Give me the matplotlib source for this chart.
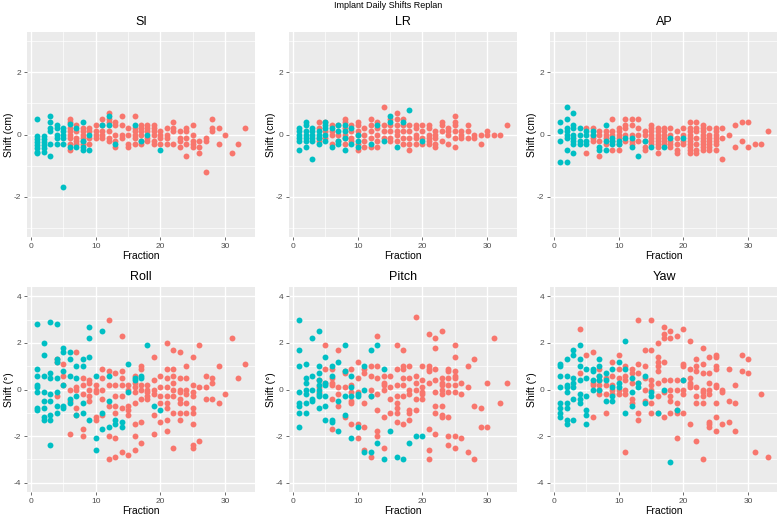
""" Implant daily shifts replan: ggplot-style 2x3 facet scatter """
import matplotlib
matplotlib.use('Agg')
import matplotlib.pyplot as plt

# shifts per fraction: {fraction: [shift values]}
# "pre" = teal group, "post" = salmon group
si_pre = {1: [0.5, -0.05, -0.15, -0.25, -0.35, -0.45, -0.55, -0.6],
          2: [-0.05, -0.15, -0.25, -0.35, -0.45, -0.55],
          3: [0.6, 0.4, 0.2, 0.1, -0.3, -0.7], 4: [0.3, 0.2, 0.0, -0.1, -0.3],
          5: [0.2, 0.1, 0.0, -0.1, -0.3, -1.7], 6: [0.35, -0.4], 7: [0.2, -0.4],
          8: [0.4, -0.2, -0.4, -0.5], 9: [0.0, -0.5], 11: [0.3], 12: [0.6, 0.3],
          13: [-0.3], 16: [0.3], 17: [-0.2], 18: [0.0], 20: [-0.5]}
si_post = {6: [0.5, 0.4, 0.2, 0.1, 0.0, -0.1, -0.3, -0.5], 7: [0.3, 0.1, -0.1, -0.2, -0.3],
           8: [0.2, 0.1, 0.0, -0.1, -0.2, -0.3], 9: [0.2, 0.1, -0.1, -0.3],
           10: [0.3, 0.1, 0.0, -0.1], 11: [0.5, 0.3, 0.1, 0.0, -0.1],
           12: [0.7, 0.5, 0.4, 0.1, -0.1, -0.2], 13: [0.4, 0.3, 0.0, -0.2, -0.4],
           14: [0.6, 0.3, 0.0, -0.1], 15: [0.2, 0.0, -0.3, -0.4],
           16: [0.6, 0.2, 0.1, 0.0, -0.1, -0.3], 17: [0.3, 0.2, 0.1, 0.0, -0.2, -0.3],
           18: [0.3, 0.2, 0.1, -0.1, -0.2], 19: [0.3, 0.2, 0.1, 0.0, -0.2, -0.3],
           20: [0.1, 0.0, -0.1, -0.3], 21: [0.2, 0.0, -0.1, -0.3], 22: [0.4, 0.2, 0.1, -0.3],
           23: [0.1, -0.1, -0.2, -0.4], 24: [0.2, 0.1, -0.1, -0.3, -0.7],
           25: [0.3, 0.0, -0.2, -0.3, -0.4], 26: [-0.2, -0.4, -0.6], 27: [-0.1, -0.2, -1.2],
           28: [0.5, 0.2, 0.1], 29: [0.2, -0.3], 30: [0.0], 31: [-0.6], 32: [-0.3], 33: [0.2]}

lr_pre = {1: [0.2, 0.1, 0.0, -0.1, -0.2, -0.5], 2: [0.4, 0.3, 0.1, 0.0, -0.1, -0.2, -0.4],
          3: [0.2, 0.1, 0.0, -0.1, -0.2, -0.8], 4: [0.1, 0.0, -0.1, -0.3],
          5: [0.4, 0.3, 0.2, 0.0, -0.2], 6: [0.2, -0.4], 7: [0.3, 0.1, -0.2, -0.3],
          8: [0.3, 0.1, -0.1, -0.5], 9: [0.2, -0.3], 10: [0.0, -0.2, -0.4], 12: [-0.3],
          13: [0.3], 14: [-0.2], 15: [0.6, 0.4], 16: [-0.4], 17: [0.4], 18: [0.8], 20: [-0.2]}
lr_post = {4: [0.4, 0.2, -0.1, -0.2], 5: [0.4, 0.1, -0.1], 6: [0.3, 0.1, 0.0, -0.3],
           7: [0.3, 0.0, -0.2], 8: [0.5, 0.4, 0.2, 0.0, -0.1, -0.3], 9: [0.3, 0.1, -0.1, -0.2],
           10: [0.4, 0.3, 0.1, 0.0, -0.3, -0.5], 11: [0.2, 0.0, -0.2, -0.4],
           12: [0.5, 0.3, 0.1, -0.1, -0.4], 13: [0.4, 0.2, 0.0, -0.2, -0.4],
           14: [0.9, 0.3, 0.1, -0.1], 15: [0.5, 0.3, 0.1, -0.1, -0.2],
           16: [0.7, 0.5, 0.3, 0.1, 0.0, -0.2], 17: [0.5, 0.3, 0.1, -0.1, -0.3],
           18: [0.3, 0.1, -0.1, -0.3, -0.5], 19: [0.3, 0.2, 0.0, -0.1, -0.3],
           20: [0.3, 0.1, -0.1, -0.3], 21: [0.3, 0.2, 0.0, -0.1, -0.2, -0.3],
           22: [0.1, 0.0, -0.1, -0.3, -0.4], 23: [0.4, 0.3, 0.1, -0.2], 24: [0.2, 0.1, 0.0, -0.3],
           25: [0.6, 0.4, 0.3, 0.1, -0.1, -0.4], 26: [0.1, 0.0, -0.1], 27: [0.3, 0.1, -0.1],
           28: [0.0, -0.1], 29: [0.0, -0.3], 30: [0.1, 0.0], 31: [0.0], 32: [0.0], 33: [0.3]}

ap_pre = {1: [0.4, 0.1, -0.2, -0.9], 2: [0.9, 0.5, 0.2, 0.1, 0.0, -0.1, -0.5, -0.9],
          3: [0.7, 0.3, 0.2, 0.0, -0.1, -0.2, -0.3, -0.6], 4: [0.2, 0.0, -0.2, -0.3],
          5: [0.1, 0.0, -0.2, -0.3], 6: [0.1, 0.0], 7: [-0.4, -0.5], 8: [0.3, -0.2, -0.5],
          9: [-0.1, -0.2, -0.3], 10: [-0.2, -0.3], 11: [-0.1], 12: [-0.1, -0.4], 13: [-0.7],
          14: [-0.2], 15: [-0.4], 17: [-0.4], 18: [-0.1], 20: [-0.1]}
ap_post = {5: [0.2, -0.6], 6: [0.2, 0.0, -0.1, -0.2], 7: [0.1, 0.0, -0.2, -0.7],
           8: [0.1, 0.0, -0.1, -0.3], 9: [0.5, 0.1, 0.0, -0.2, -0.5],
           10: [0.2, 0.1, 0.0, -0.1, -0.3, -0.5], 11: [0.5, 0.3, 0.2, 0.0, -0.2],
           12: [0.5, 0.3, 0.0, -0.2, -0.3], 13: [0.5, 0.2, 0.0, -0.2],
           14: [0.1, 0.0, -0.2, -0.4, -0.5], 15: [0.3, 0.2, 0.1, 0.0, -0.1, -0.2, -0.3],
           16: [0.2, 0.1, 0.0, -0.1, -0.2, -0.3, -0.4, -0.6],
           17: [0.2, 0.1, 0.0, -0.1, -0.2, -0.3], 18: [0.2, 0.0, -0.2, -0.3, -0.4],
           19: [0.1, -0.1, -0.3, -0.5, -0.6], 20: [0.2, 0.0, -0.2, -0.3],
           21: [0.4, 0.2, 0.1, 0.0, -0.1, -0.2, -0.3, -0.4, -0.5, -0.6],
           22: [0.4, 0.2, 0.1, -0.1, -0.3, -0.5, -0.6],
           23: [0.3, 0.2, 0.1, 0.0, -0.1, -0.2, -0.3, -0.4, -0.5],
           24: [0.2, 0.0, -0.1, -0.2, -0.3, -0.4, -0.5],
           25: [0.2, 0.1, 0.0, -0.1, -0.2, -0.3, -0.5], 26: [0.2, -0.1, -0.8], 27: [0.0],
           28: [0.3, -0.4], 29: [0.4, -0.2], 30: [0.4, -0.4], 31: [-0.3], 32: [-0.3], 33: [0.1]}

roll_pre = {1: [2.8, 0.9, 0.6, 0.2, 0.1, -0.1, -0.8, -0.9],
            2: [2.0, 1.5, 0.6, -0.1, -0.5, -0.8, -1.2, -1.3],
            3: [2.9, 0.7, 0.5, -0.2, -0.5, -1.1, -1.3, -2.4],
            4: [2.8, 1.3, 1.2, 0.5, -0.1, -0.7, -1.0], 5: [1.8, 1.6, 0.8, 0.2, -0.7, -0.8],
            6: [1.6, 1.3, 0.6, -0.4, -0.6], 7: [1.0, 0.5, -0.3, -1.1], 8: [1.3, 1.0, -0.6, -1.0],
            9: [2.7, 2.2, 1.4, -1.3], 10: [0.6, -2.1, -2.6], 11: [2.5, -1.0, -1.7],
            12: [0.6, -0.5, -1.6], 13: [-1.3, -1.5], 14: [-1.6, -1.4], 15: [1.1, -0.1],
            16: [0.5, 0.4], 17: [0.6, 0.5], 18: [1.9], 19: [-0.7], 20: [-0.9]}
roll_post = {4: [1.3, 1.2, -0.3], 5: [1.1, 0.6, 0.2], 6: [0.0, -0.5, -1.9],
             7: [1.6, 0.1, 0.0, -0.8, -1.1], 8: [0.5, 0.2, -0.2, -1.7, -2.0],
             9: [0.4, 0.3, 0.0, -0.3, -0.5], 10: [0.2, 0.0, -0.1, -1.2, -1.3],
             11: [0.9, 0.5, 0.0, -0.4, -1.1], 12: [3.0, 0.8, 0.2, -0.7, -2.0, -3.0],
             13: [0.7, 0.2, -0.3, -0.7, -1.0, -2.1, -2.9],
             14: [2.3, 0.8, 0.5, 0.2, -0.3, -0.8, -2.7],
             15: [0.2, 0.0, -0.7, -0.9, -1.1, -2.8],
             16: [0.6, 0.3, 0.1, -0.1, -0.6, -1.5, -2.0, -2.6],
             17: [1.0, 0.9, 0.2, 0.0, -0.4, -1.4, -2.3], 18: [0.2, 0.0, -0.1, -0.3, -0.4],
             19: [1.4, 0.4, 0.0, -0.2, -1.1, -1.9], 20: [0.6, 0.1, -0.3, -0.6, -1.4],
             21: [2.0, 0.9, 0.5, 0.1, -0.3, -0.6, -0.8, -1.3, -1.8],
             22: [1.7, 0.9, 0.6, 0.3, 0.0, -0.3, -1.0, -2.5],
             23: [1.6, 0.5, 0.0, -0.1, -0.4, -0.6, -1.0, -1.3],
             24: [1.0, 0.5, 0.0, -0.2, -0.6, -1.0],
             25: [1.4, 0.2, -0.1, -0.3, -0.8, -1.0, -1.5, -2.4, -2.5],
             26: [1.9, 0.1, -2.2], 27: [0.6, 0.1, -0.4], 28: [0.5, 0.3, -0.4], 29: [1.0, -0.6],
             30: [-0.2], 31: [2.2], 32: [0.5], 33: [1.1]}

pitch_pre = {1: [3.0, 1.7, 1.0, -0.1, -0.6, -0.7, -1.0, -1.6],
             2: [1.1, 0.5, 0.3, 0.0, -0.2, -0.6, -1.0], 3: [2.2, 0.6, 0.0, -0.4, -0.5],
             4: [2.5, 1.0, 0.7, 0.4, 0.2, 0.0, -0.2, -0.3, -0.8],
             5: [1.4, 0.3, 0.2, -0.3, -0.7, -1.3], 6: [1.0, 0.6, -1.3, -1.4],
             7: [1.2, -0.5, -1.8], 8: [1.9, 0.8, -0.3, -1.1], 9: [0.6, 0.1, -0.3, -2.1],
             10: [-0.2, -0.3, -1.6], 11: [1.0, 0.0, -2.7], 12: [1.7, -0.3, -2.7],
             13: [1.9, -2.3], 14: [0.9, -3.0], 15: [-1.8], 16: [-2.9], 17: [-3.0],
             18: [-2.3], 19: [-2.0], 20: [-2.0]}
pitch_post = {4: [0.4, 0.1, -0.1], 5: [1.9, 0.9, 0.3], 6: [0.9, 0.5, 0.3, 0.2, -0.4, -1.7],
              7: [1.7, 0.1, -0.2, -0.7], 8: [0.8, 0.7, 0.1, -1.2],
              9: [0.9, 0.2, -0.1, -0.5, -0.6, -1.5], 10: [1.2, 0.5, -0.1, -1.5, -2.1],
              11: [0.9, 0.7, -0.6, -1.6, -2.6], 12: [1.0, 0.6, 0.0, -0.3, -2.9],
              13: [2.3, 1.0, 0.5, -0.2, -0.9, -1.8, -2.0],
              14: [0.6, 0.3, 0.2, 0.0, -1.2, -2.5], 15: [0.6, 0.1, -0.4, -1.0],
              16: [1.9, 0.9, 0.2, -0.3, -0.6, -0.8, -1.0, -1.4],
              17: [1.7, 1.0, 0.9, 0.5, 0.2, -0.3, -1.5],
              18: [1.0, 0.5, 0.0, -0.2, -0.9, -1.0, -1.3],
              19: [3.1, 0.6, 0.3, 0.0, -0.4, -0.9], 20: [1.0, 0.4, 0.1, -0.1, -0.2, -0.4],
              21: [2.4, 1.0, 0.9, 0.8, 0.3, -1.7, -2.6, -3.0],
              22: [2.2, 1.8, 0.9, 0.4, -0.1, -0.7, -1.0, -1.9],
              23: [2.5, 0.5, 0.3, 0.2, 0.0, -0.2, -0.7, -1.1, -1.2],
              24: [0.9, 0.8, 0.5, 0.2, -0.1, -1.2, -2.0, -2.4],
              25: [1.9, 1.4, 0.8, 0.6, 0.5, 0.2, -0.1, -2.0, -2.5],
              26: [0.3, -0.2, -2.1], 27: [1.0, 0.1, -2.7], 28: [1.3, -0.7, -3.0],
              29: [-0.8, -1.6], 30: [0.3, -1.6], 31: [2.2], 32: [-0.6], 33: [0.3]}

yaw_pre = {1: [1.1, 1.0, 0.6, 0.1, -0.6, -0.8, -1.0, -1.2],
           2: [1.3, 0.6, 0.2, 0.1, -0.1, -0.6, -0.8, -1.3, -1.5],
           3: [1.7, 1.5, 0.5, 0.3, 0.1, -0.4, -1.3], 4: [1.9, 1.3, 1.0, 0.4, -0.2, -0.4, -0.6],
           5: [0.9, 0.5, -0.3, -0.9, -1.1, -1.5], 6: [0.9, 0.8, 0.4, 0.0],
           7: [1.3, 1.0, 0.6, 0.4, 0.0], 8: [0.7, 0.4, -0.5], 9: [0.9, 0.1, -0.3, -0.5],
           10: [1.2, 0.3, 0.1], 11: [2.1, 0.9, -1.0], 12: [0.5, -0.1, -0.7], 13: [0.3, 0.1],
           14: [0.6, -0.6], 15: [-0.1, -0.3], 16: [-1.0], 17: [0.0], 18: [-3.1], 19: [-0.9],
           20: [0.4]}
yaw_post = {4: [2.6, 0.7], 5: [1.5], 6: [1.6, 0.3, 0.2, -1.2], 7: [0.9, 0.6, 0.4, 0.2, 0.0, -0.2],
            8: [0.5, 0.2, -0.2, -1.0], 9: [1.2, 0.6, 0.2, 0.0, -0.2],
            10: [1.5, 0.9, 0.5, 0.0, -0.2], 11: [1.0, 0.6, 0.4, 0.0, -0.2, -2.7],
            12: [0.9, 0.7, 0.3, -0.4, -0.6], 13: [3.0, 1.1, 0.7, 0.3, -1.0, -1.3],
            14: [1.7, 1.0, 0.5, 0.0, -0.5], 15: [3.0, 1.7, 0.4, 0.2, 0.0, -0.6, -1.0],
            16: [2.0, 1.4, 1.2, 1.0, 0.8, 0.3, -0.3, -1.0],
            17: [2.7, 2.4, 2.2, 1.2, 0.4, -0.1, -1.2],
            18: [2.5, 2.2, 0.4, 0.0, -0.3, -0.5, -1.0],
            19: [2.3, 0.4, 0.0, -0.6, -0.9, -1.0, -2.1],
            20: [2.6, 1.1, 1.0, 0.4, 0.0, -0.2, -1.0],
            21: [2.1, 0.9, 0.5, 0.3, 0.2, 0.1, -1.5],
            22: [1.3, 1.0, 0.8, 0.1, -0.3, -0.6, -2.2],
            23: [1.8, 1.1, 0.7, 0.0, -0.1, -0.3, -0.6, -3.0],
            24: [1.4, 0.7, 0.3, 0.0, -0.2, -1.4, -1.5, -1.6],
            25: [1.5, 1.4, 1.0, 0.9, 0.2, 0.1, -0.6, -1.2, -1.8],
            26: [0.0, -0.1, -1.5], 27: [0.9, -0.5, -1.4], 28: [0.2, -0.6, -1.8],
            29: [1.5, 0.8], 30: [1.3, 0.7], 31: [-2.7], 32: [-0.2], 33: [-2.9]}

panel_titles = ['SI', 'LR', 'AP', 'Roll', 'Pitch', 'Yaw']
panel_data = [(si_pre, si_post), (lr_pre, lr_post), (ap_pre, ap_post),
              (roll_pre, roll_post), (pitch_pre, pitch_post), (yaw_pre, yaw_post)]
y_labels = ['Shift (cm)'] * 3 + ['Shift (\u00b0)'] * 3

TEAL = '#00BFC4'
SALMON = '#F8766D'
W, H = 777, 517

plt.rcParams['font.family'] = ['Liberation Sans', 'DejaVu Sans']
plt.rcParams['axes.unicode_minus'] = False

fig = plt.figure(figsize=(W / 100, H / 100), dpi=100)

lefts = [27, 289, 550]
tops = [32, 287]
pw, ph = 228, 205


def flatten(d):
    xs, ys = [], []
    for k, vals in d.items():
        for v in vals:
            xs.append(k)
            ys.append(v)
    return xs, ys


for i, (title, (pre, post)) in enumerate(zip(panel_titles, panel_data)):
    row, col = divmod(i, 3)
    l, t = lefts[col], tops[row]
    ax = fig.add_axes([l / W, 1 - (t + ph) / H, pw / W, ph / H])
    ax.set_facecolor('#EBEBEB')
    for s in ax.spines.values():
        s.set_visible(False)

    x1, y1 = flatten(post)
    x0, y0 = flatten(pre)
    ax.scatter(x1, y1, s=18, color=SALMON, linewidths=0, zorder=3)
    ax.scatter(x0, y0, s=18, color=TEAL, linewidths=0, zorder=3)

    ax.set_xlim(-0.6, 34.6)
    ax.set_xticks([0, 10, 20, 30])
    ax.set_xticks([5, 15, 25], minor=True)
    if row == 0:
        ax.set_ylim(-3.3, 3.3)
        ax.set_yticks([-2, 0, 2])
        ax.set_yticks([-3, -1, 1, 3], minor=True)
    else:
        ax.set_ylim(-4.4, 4.4)
        ax.set_yticks([-4, -2, 0, 2, 4])
        ax.set_yticks([-3, -1, 1, 3], minor=True)

    ax.grid(True, which='major', color='white', linewidth=1.0, zorder=0)
    ax.grid(True, which='minor', color='white', linewidth=0.5, zorder=0)
    ax.set_axisbelow(True)
    ax.tick_params(which='major', length=2.5, width=0.5, color='#333333',
                   labelsize=6, labelcolor='#4D4D4D', pad=1.5)
    ax.tick_params(which='minor', length=0)

    ax.set_xlabel('Fraction', fontsize=7.5, labelpad=1)
    ax.set_ylabel(y_labels[i], fontsize=7.5)
    ax.yaxis.set_label_coords(-13 / pw, 0.5)
    ax.set_title(title, fontsize=9, pad=5)

fig.text(0.5, 1 - 6 / H, 'Implant Daily Shifts Replan', ha='center', va='center',
         fontsize=6.5)

fig.savefig('out.png', dpi=100)
